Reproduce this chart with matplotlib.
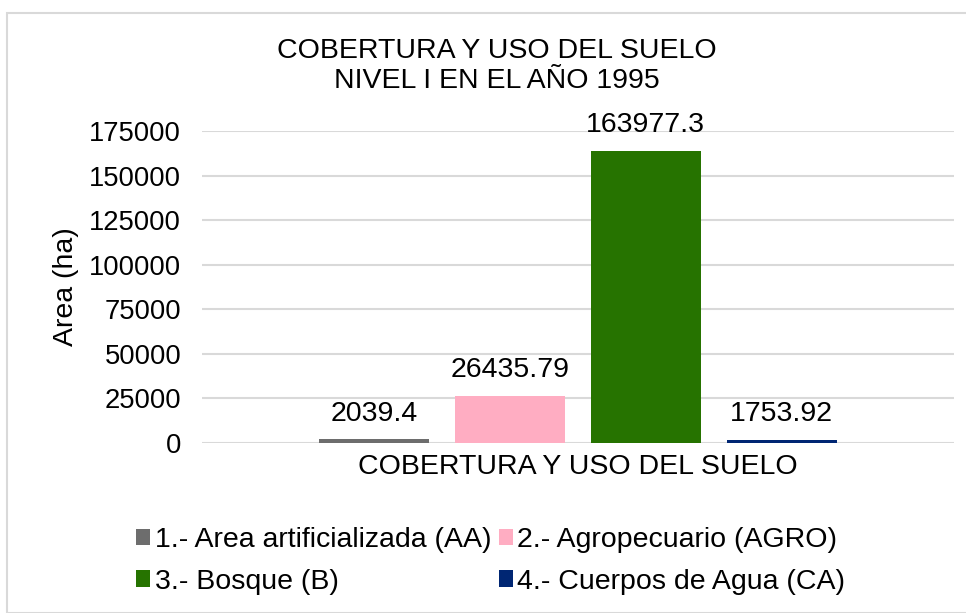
import matplotlib
matplotlib.use('Agg')
import matplotlib.pyplot as plt
import matplotlib.patches as mpatches

# data
labels = ['1.- Area artificializada (AA)', '2.- Agropecuario (AGRO)',
          '3.- Bosque (B)', '4.- Cuerpos de Agua (CA)']
values = [2039.4, 26435.79, 163977.3, 1753.92]
value_text = ['2039.4', '26435.79', '163977.3', '1753.92']
colors = ['#6d6d6d', '#ffadc2', '#267300', '#002673']
yticks = [0, 25000, 50000, 75000, 100000, 125000, 150000, 175000]

plt.rcParams['font.family'] = ['Liberation Sans', 'DejaVu Sans']
fs = 20.5

W, H = 966, 613
fig = plt.figure(figsize=(W / 100, H / 100), dpi=100)

# outer frame
fig.patches.append(mpatches.Rectangle((7 / W, 0), 1.2, 1 - 13 / H, transform=fig.transFigure,
                                      fill=False, edgecolor='#d9d9d9', linewidth=1.5))

ax = fig.add_axes([202 / W, 1 - 443 / H, (954 - 202) / W, (443 - 131) / H])

bars = []
for i, (v, c, lab) in enumerate(zip(values, colors, labels)):
    b = ax.bar(i, v, width=0.81, color=c, label=lab, zorder=3)
    bars.append(b)
    ax.annotate(value_text[i], (i, v), xytext=(0, 9), textcoords='offset points',
                ha='center', va='bottom', fontsize=fs)

ax.set_xlim(-1.27, 4.27)
ax.set_ylim(0, 175000)
ax.set_yticks(yticks)
ax.set_yticklabels([str(t) for t in yticks], fontsize=19.7)
ax.set_xticks([])
ax.tick_params(axis='y', length=0, pad=15)
ax.grid(axis='y', color='#d9d9d9', linewidth=1.5, zorder=0)
ax.set_axisbelow(True)
for s in ax.spines.values():
    s.set_visible(False)

ax.set_ylabel('Area (ha)', fontsize=fs, labelpad=7)
ax.set_xlabel('COBERTURA Y USO DEL SUELO', fontsize=fs, labelpad=8)

fig.text(497 / W, 1 - 66 / H, 'COBERTURA Y USO DEL SUELO\nNIVEL I EN EL AÑO 1995',
         ha='center', va='center', fontsize=fs, linespacing=1.25)

# legend, two columns under the plot, filled row by row
order = [0, 2, 1, 3]
h = [bars[k].patches[0] for k in order]
fig.legend(h, [labels[k] for k in order], ncol=2, loc='upper left',
           bbox_to_anchor=(136 / W, 1 - 527 / H), frameon=False, fontsize=fs,
           handlelength=0.5, handleheight=0.5, handletextpad=0.15,
           columnspacing=0.28, labelspacing=0.55, borderaxespad=0, borderpad=0)

fig.savefig('out.png', dpi=100)
